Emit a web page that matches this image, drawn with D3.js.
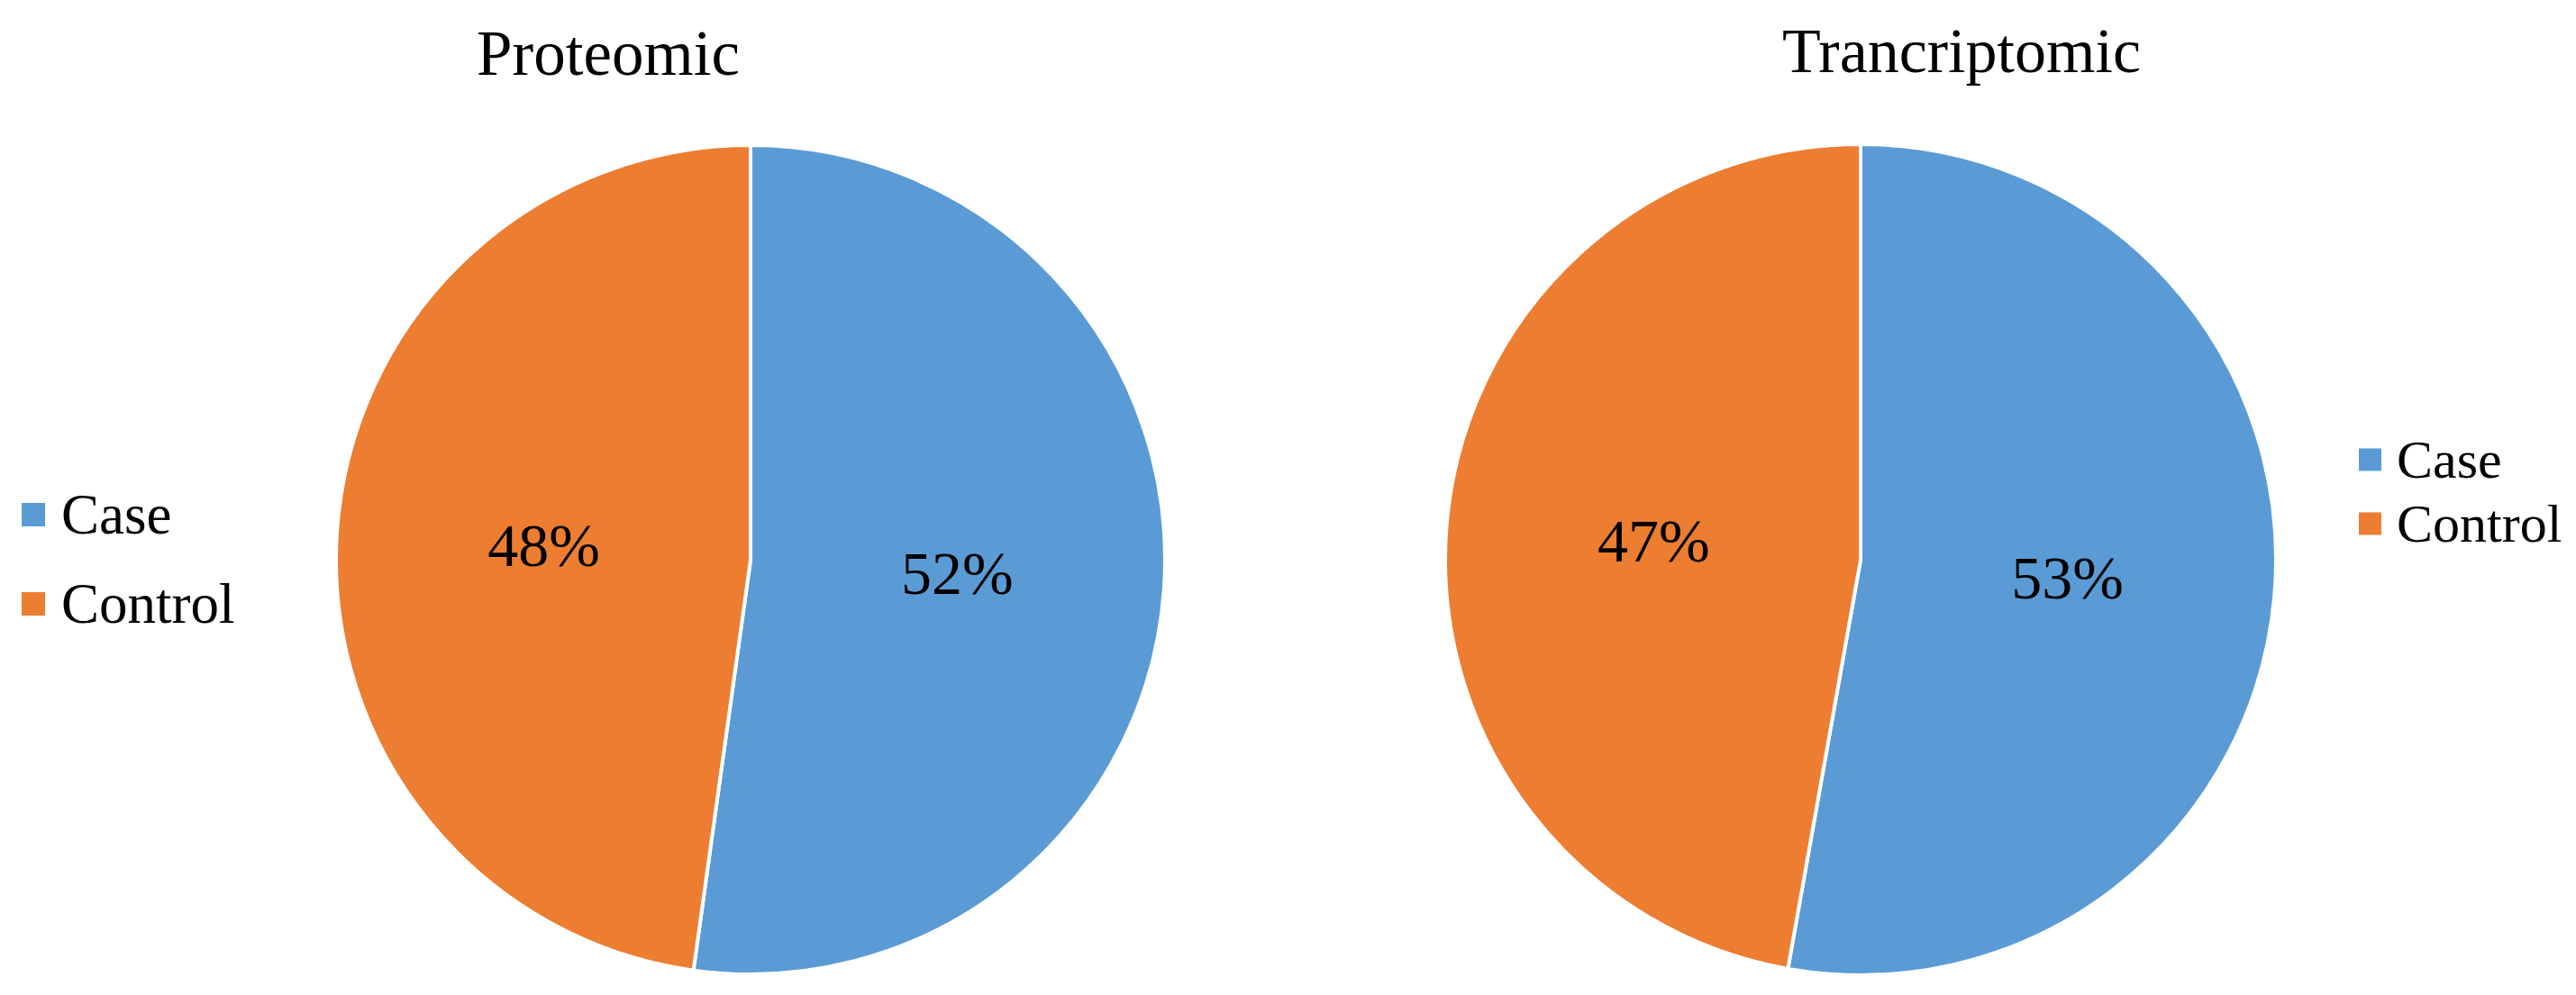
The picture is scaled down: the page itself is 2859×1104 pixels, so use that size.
<!DOCTYPE html>
<html>
<head>
<meta charset="utf-8">
<script src="https://cdn.jsdelivr.net/npm/d3@7"></script>
<style>
  html, body { margin: 0; padding: 0; background: #ffffff; }
  svg { display: block; }
  text { font-family: "Liberation Serif", "Times New Roman", serif; fill: #000; }
</style>
</head>
<body>
<svg id="chart" width="2859" height="1104"></svg>
<script>
const categories = ["Case", "Control"];
const colors = ["#5B9BD5", "#ED7D31"];
const proteomicValues = [52.2, 47.8];
const transcriptomicValues = [52.8, 47.2];
const chartTitles = ["Proteomic", "Trancriptomic"];

const svg = d3.select("#chart");

const colorScale = d3.scaleOrdinal().domain(categories).range(colors);

const panels = [
  { title: chartTitles[0], values: proteomicValues, cx: 833, cy: 621, r: 460,
    titleX: 675, titleY: 83, titleSize: 71, labelSize: 68,
    legend: { x: 24, y0: 571, step: 99, box: 26, textX: 68, size: 63 } },
  { title: chartTitles[1], values: transcriptomicValues, cx: 2065, cy: 621, r: 461,
    titleX: 2177, titleY: 80, titleSize: 70, labelSize: 68,
    legend: { x: 2618, y0: 510, step: 71, box: 25, textX: 2660, size: 60 } }
];

const pie = d3.pie().sort(null).value(d => d.value);

panels.forEach(p => {
  const data = categories.map((c, i) => ({ cat: c, value: p.values[i] }));
  const arcs = pie(data);
  const arc = d3.arc().innerRadius(0).outerRadius(p.r);
  const labelArc = d3.arc().innerRadius(0).outerRadius(p.r);

  const g = svg.append("g").attr("transform", `translate(${p.cx},${p.cy})`);

  g.selectAll("path.slice")
    .data(arcs)
    .join("path")
    .attr("class", "slice")
    .attr("d", arc)
    .attr("fill", d => colorScale(d.data.cat))
    .attr("stroke", "#ffffff")
    .attr("stroke-width", 4)
    .attr("stroke-linejoin", "round");

  const total = d3.sum(p.values);
  g.selectAll("text.lbl")
    .data(arcs)
    .join("text")
    .attr("class", "lbl")
    .attr("transform", d => `translate(${labelArc.centroid(d)})`)
    .attr("text-anchor", "middle")
    .attr("dy", "0.33em")
    .attr("font-size", p.labelSize)
    .text(d => Math.round(d.data.value / total * 100) + "%");

  svg.append("text")
    .attr("x", p.titleX)
    .attr("y", p.titleY)
    .attr("text-anchor", "middle")
    .attr("font-size", p.titleSize)
    .text(p.title);

  const lg = svg.append("g");
  const L = p.legend;
  categories.forEach((c, i) => {
    const cyL = L.y0 + i * L.step;
    lg.append("rect")
      .attr("x", L.x)
      .attr("y", cyL - L.box / 2)
      .attr("width", L.box)
      .attr("height", L.box)
      .attr("fill", colorScale(c));
    lg.append("text")
      .attr("x", L.textX)
      .attr("y", cyL)
      .attr("dy", "0.33em")
      .attr("font-size", L.size)
      .text(c);
  });
});
</script>
</body>
</html>
